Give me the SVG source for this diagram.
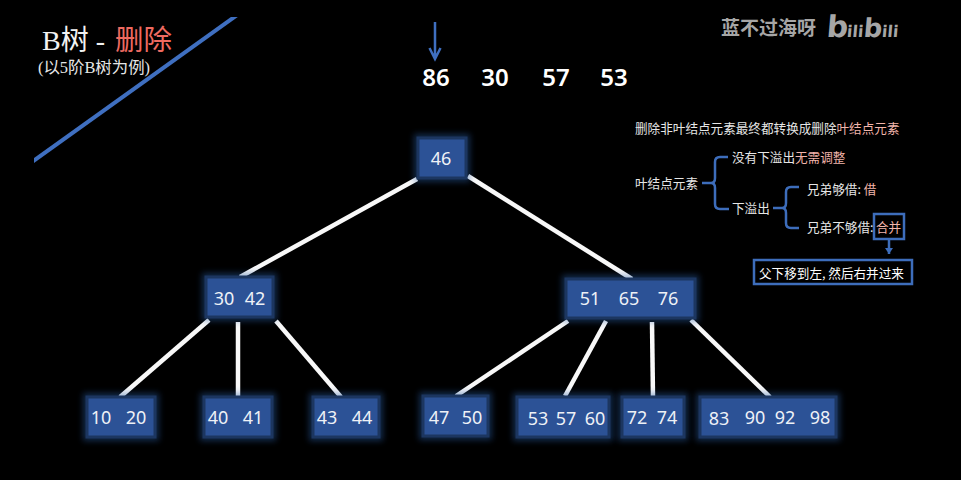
<svg xmlns="http://www.w3.org/2000/svg" width="961" height="480" viewBox="0 0 961 480">
<style>
text{font-family:"Noto Sans CJK SC","Noto Sans",sans-serif}
.box{fill:#2c5296;stroke:#1c3660;stroke-width:3}
.glow{fill:#2c5ea8;opacity:.45;filter:url(#gl)}
.n{font-family:"Noto Sans","DejaVu Sans",sans-serif;font-size:18px;fill:#eef1f6;text-anchor:middle}
.top{font-family:"Noto Sans",sans-serif;font-size:24px;font-weight:600;fill:#fff;text-anchor:middle}
.e{stroke:#f8f8f8;stroke-width:4.500;fill:none}
.b{stroke:#3d6dbb;fill:none;stroke-width:2.500}
.a{font-size:12.600px;fill:#e6e6e6}
.r{fill:#f2b5ab}
</style>
<defs>
<filter id="gl" x="-30%" y="-40%" width="160%" height="180%"><feGaussianBlur stdDeviation="3"/></filter>
<clipPath id="c"><rect x="34" y="17" width="220" height="160"/></clipPath>
<marker id="ah" markerWidth="10" markerHeight="10" refX="6" refY="4" orient="auto" markerUnits="userSpaceOnUse"><path d="M0 0L6 4L0 8Z" fill="#3d6dbb"/></marker>
</defs>
<rect width="961" height="480" fill="#000"/>
<line x1="20" y1="170.500" x2="250" y2="5.800" stroke="#3f6fc0" stroke-width="4" clip-path="url(#c)"/>
<g id="title">
<text x="42" y="50" font-size="28" fill="#f2f2f2" style="font-family:'Liberation Serif','Noto Sans CJK SC',serif">B树 -</text>
<text x="115" y="50" font-size="28.500" fill="#ee6a60" style="font-family:'Noto Sans CJK SC',sans-serif">删除</text>
<text x="38" y="73" font-size="16.400" fill="#e6e6e6" style="font-family:'Liberation Serif','Noto Sans CJK SC',serif">(以5阶B树为例)</text>
</g>
<g id="watermark" fill="#a6a6a6">
<text x="721" y="35" font-size="19" font-weight="700">蓝不过海呀</text>
<text transform="translate(826 37) skewX(-5)" font-weight="700" style="font-family:'DejaVu Sans',sans-serif"><tspan font-size="30">b</tspan><tspan font-size="16" dx="-1">ili</tspan><tspan font-size="26" dx="0">b</tspan><tspan font-size="16">ili</tspan></text>
</g>
<g id="queue">
<text class="top" x="436" y="86">86</text>
<text class="top" x="495" y="86">30</text>
<text class="top" x="556" y="86">57</text>
<text class="top" x="614" y="86">53</text>
<path d="M435 22V58M429.500 48L435 59L440.500 48" fill="none" stroke="#3f6fc0" stroke-width="2.500"/>
</g>
<g id="connectors">
<line class="e" x1="417" y1="179" x2="240" y2="277"/>
<line class="e" x1="468" y1="176" x2="632" y2="279"/>
<line class="e" x1="209" y1="320" x2="120" y2="397"/>
<line class="e" x1="238" y1="322" x2="238" y2="397"/>
<line class="e" x1="276" y1="321" x2="341" y2="397"/>
<line class="e" x1="568" y1="321" x2="456" y2="396"/>
<line class="e" x1="606" y1="321" x2="565" y2="396"/>
<line class="e" x1="652" y1="322" x2="653" y2="398"/>
<line class="e" x1="691" y1="320" x2="770" y2="397"/>
</g>
<g id="n46"><rect class="glow" x="414" y="134" width="56" height="48"/><rect class="box" x="418" y="138" width="48" height="40"/><text class="n" x="441" y="165">46</text></g>
<g id="n3042"><rect class="glow" x="202" y="273" width="75" height="48"/><rect class="box" x="206" y="277" width="67" height="40"/><text class="n" x="224" y="305">30</text><text class="n" x="255" y="305">42</text></g>
<g id="n516576"><rect class="glow" x="562" y="275" width="137" height="47"/><rect class="box" x="566" y="279" width="129" height="39"/><text class="n" x="590" y="305">51</text><text class="n" x="629" y="305">65</text><text class="n" x="668" y="305">76</text></g>
<g id="n1020"><rect class="glow" x="83" y="393" width="76" height="48"/><rect class="box" x="87" y="397" width="68" height="40"/><text class="n" x="101" y="424">10</text><text class="n" x="136" y="424">20</text></g>
<g id="n4041"><rect class="glow" x="200" y="393" width="76" height="48"/><rect class="box" x="204" y="397" width="68" height="40"/><text class="n" x="218" y="424">40</text><text class="n" x="253" y="424">41</text></g>
<g id="n4344"><rect class="glow" x="309" y="393" width="74" height="48"/><rect class="box" x="313" y="397" width="66" height="40"/><text class="n" x="327" y="424">43</text><text class="n" x="362" y="424">44</text></g>
<g id="n4750"><rect class="glow" x="419" y="392" width="73" height="48"/><rect class="box" x="423" y="396" width="65" height="40"/><text class="n" x="439" y="424">47</text><text class="n" x="472" y="424">50</text></g>
<g id="n535760"><rect class="glow" x="513" y="393" width="100" height="48"/><rect class="box" x="517" y="397" width="92" height="40"/><text class="n" x="538" y="425">53</text><text class="n" x="566" y="425">57</text><text class="n" x="595" y="425">60</text></g>
<g id="n7274"><rect class="glow" x="618" y="393" width="70" height="48"/><rect class="box" x="622" y="397" width="62" height="40"/><text class="n" x="637" y="424">72</text><text class="n" x="667" y="424">74</text></g>
<g id="n83909298"><rect class="glow" x="696" y="393" width="144" height="48"/><rect class="box" x="700" y="397" width="136" height="40"/><text class="n" x="719" y="425">83</text><text class="n" x="755" y="424">90</text><text class="n" x="785" y="424">92</text><text class="n" x="820" y="424">98</text></g>
<g id="notes">
<text class="a" x="635" y="133">删除非叶结点元素最终都转换成删除<tspan class="r">叶结点元素</tspan></text>
<text class="a" x="635" y="188">叶结点元素</text>
<text class="a" x="732" y="162">没有下溢出<tspan class="r">无需调整</tspan></text>
<text class="a" x="732" y="213">下溢出</text>
<text class="a" x="807" y="194">兄弟够借: <tspan class="r">借</tspan></text>
<text class="a" x="807" y="232">兄弟不够借: <tspan class="r" x="876">合并</tspan></text>
<path class="b" d="M702 183H711Q715 183 715 178V162Q715 157 720 157H728M711 183Q715 183 715 188V204Q715 209 720 209H729"/>
<path class="b" d="M773 208H782Q786 208 786 203V192Q786 187 791 187H799M782 208Q786 208 786 213V223Q786 228 791 228H799"/>
<rect class="b" x="874" y="214" width="30" height="25"/>
<line class="b" x1="889" y1="239" x2="889" y2="254" marker-end="url(#ah)"/>
<g id="note-merge"><rect class="b" x="754" y="260" width="158" height="24"/>
<text x="759" y="278" font-size="12.600" fill="#fff">父下移到左, 然后右并过来</text></g>
</g>
</svg>
